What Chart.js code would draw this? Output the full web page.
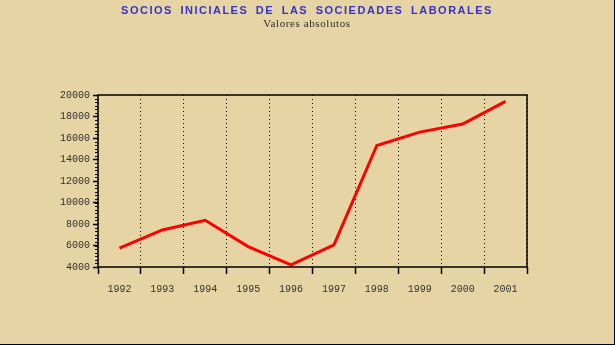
<!DOCTYPE html>
<html lang="es">

<head>
    <meta charset="UTF-8" />
    <title>Socios iniciales de las sociedades laborales</title>
    <style>
        body { margin: 0; background: #e6d4a4; }
        canvas { display: block; }
    </style>
</head>

<body>

    <canvas id="myChart" width="615" height="345"></canvas>

    <script src="https://cdn.jsdelivr.net/npm/chart.js"></script>
    <script>
        // datos
        const years = ['1992', '1993', '1994', '1995', '1996', '1997', '1998', '1999', '2000', '2001'];
        const socios = [5750, 7450, 8350, 5900, 4200, 6050, 15300, 16550, 17300, 19400];
        const yMin = 4000;
        const yMax = 20000;
        const yStep = 2000;
        const minorPerStep = 6;

        const titulo = 'SOCIOS INICIALES DE LAS SOCIEDADES LABORALES';
        const subtitulo = 'Valores absolutos';

        const fondo = '#e6d4a4';
        const tickFont = { family: '"Liberation Mono", monospace', size: 10 };

        // fondo, titulos, marco y marcas menores del eje y
        const decorado = {
            id: 'decorado',
            beforeDraw(chart) {
                const ctx = chart.ctx;
                ctx.save();
                ctx.fillStyle = fondo;
                ctx.fillRect(0, 0, chart.width, chart.height);

                ctx.textAlign = 'center';
                ctx.textBaseline = 'middle';
                ctx.fillStyle = '#3333cc';
                ctx.font = 'bold 11px "Liberation Sans", Arial, sans-serif';
                ctx.letterSpacing = '1.5px';
                ctx.wordSpacing = '3px';
                ctx.fillText(titulo, 307, 11);

                ctx.fillStyle = '#2e2e2e';
                ctx.font = '11px "Liberation Serif", serif';
                ctx.letterSpacing = '0.6px';
                ctx.wordSpacing = '0px';
                ctx.fillText(subtitulo, 307, 24);
                ctx.restore();
            },
            afterDraw(chart) {
                const ctx = chart.ctx;
                const a = chart.chartArea;
                const y = chart.scales.y;
                ctx.save();
                ctx.strokeStyle = '#000';
                ctx.lineWidth = 1.5;
                ctx.strokeRect(a.left, a.top, a.right - a.left, a.bottom - a.top);

                ctx.lineWidth = 1;
                ctx.beginPath();
                const minor = yStep / minorPerStep;
                for (let v = yMin; v <= yMax + 0.1; v += minor) {
                    const py = Math.round(y.getPixelForValue(v)) + 0.5;
                    ctx.moveTo(a.left - 3, py);
                    ctx.lineTo(a.left, py);
                }
                ctx.stroke();

                // borde del grafico
                ctx.fillStyle = '#000';
                ctx.fillRect(chart.width - 1, 0, 1, chart.height);
                ctx.fillRect(0, chart.height - 1, chart.width, 1);
                ctx.restore();
            }
        };

        const data = {
            labels: years,
            datasets: [{
                data: socios,
                borderColor: '#ff0000',
                borderWidth: 3,
                pointRadius: 0,
                tension: 0,
                fill: false
            }]
        };

        const config = {
            type: 'line',
            data: data,
            options: {
                responsive: false,
                animation: false,
                devicePixelRatio: 1,
                layout: { padding: { top: 95, right: 88, left: 0, bottom: 0 } },
                plugins: {
                    legend: { display: false },
                    tooltip: { enabled: false }
                },
                scales: {
                    x: {
                        offset: true,
                        grid: {
                            offset: true,
                            color: '#000',
                            lineWidth: 1,
                            tickLength: 7,
                            tickWidth: 1.5,
                            tickColor: '#000',
                            tickBorderDash: []
                        },
                        border: { display: false, dash: [1, 3] },
                        ticks: {
                            color: '#333',
                            font: tickFont,
                            padding: 9,
                            autoSkip: false,
                            maxRotation: 0
                        },
                        afterFit(scale) { scale.height = 78; }
                    },
                    y: {
                        min: yMin,
                        max: yMax,
                        ticks: {
                            stepSize: yStep,
                            color: '#333',
                            font: tickFont,
                            padding: 3,
                            callback: (v) => String(v)
                        },
                        grid: {
                            drawOnChartArea: false,
                            tickLength: 5,
                            tickColor: '#000',
                            tickWidth: 1.5
                        },
                        border: { display: false },
                        afterFit(scale) { scale.width = 98; }
                    }
                }
            },
            plugins: [decorado]
        };

        const myChart = new Chart(
            document.getElementById('myChart'),
            config
        );
    </script>

</body>

</html>
